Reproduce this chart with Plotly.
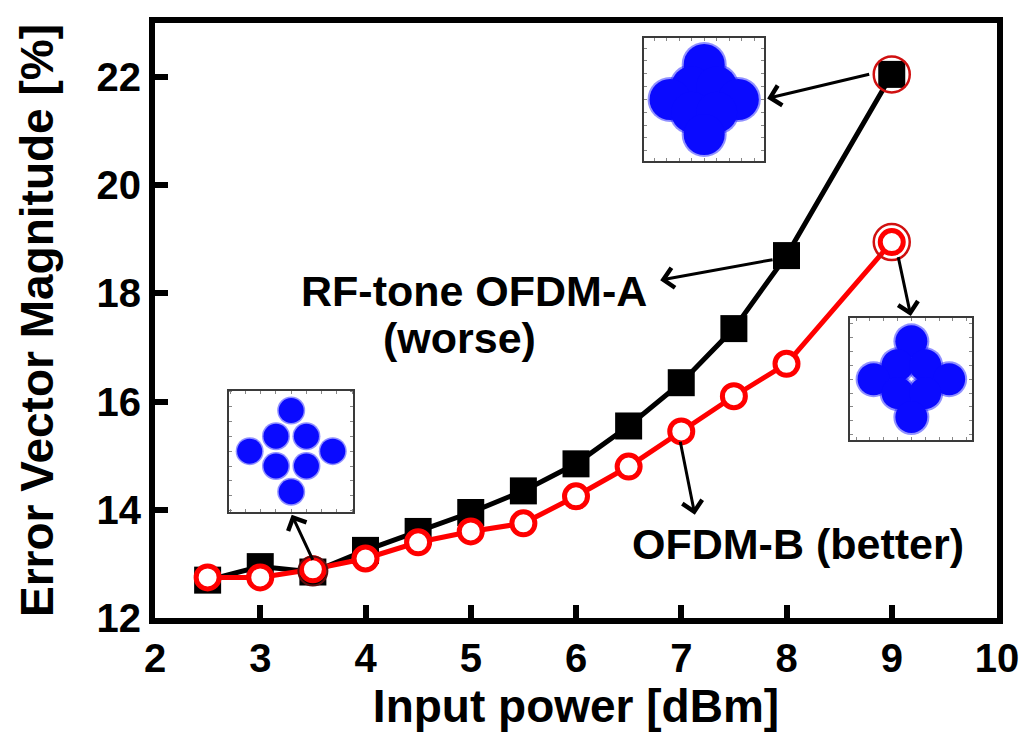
import plotly.graph_objects as go

# Measured EVM versus input power
input_power = [2.5, 3, 3.5, 4, 4.5, 5, 5.5, 6, 6.5, 7, 7.5, 8, 9]
evm_ofdm_a = [12.70, 12.95, 12.85, 13.25, 13.60, 13.95, 14.35, 14.85, 15.55, 16.35, 17.35, 18.70, 22.05]
evm_ofdm_b = [12.75, 12.75, 12.90, 13.10, 13.40, 13.60, 13.75, 14.25, 14.80, 15.45, 16.10, 16.70, 18.95]

x_ticks = [2, 3, 4, 5, 6, 7, 8, 9, 10]
y_ticks = [12, 14, 16, 18, 20, 22]

# Constellation cluster centres (star 8-QAM)
const_i = [0.0, -1.0, 1.0, -2.73, 2.73, -1.0, 1.0, 0.0]
const_q = [2.73, 1.0, 1.0, 0.0, 0.0, -1.0, -1.0, -2.73]

FONT = "Liberation Sans, Arial, sans-serif"
BLUE = "#0a0aff"
RED = "#ff0000"

fig = go.Figure()

# Main curves
fig.add_trace(go.Scatter(
    x=input_power, y=evm_ofdm_a, mode="lines+markers", name="RF-tone OFDM-A",
    line=dict(color="black", width=5),
    marker=dict(symbol="square", size=27, color="black"),
))
fig.add_trace(go.Scatter(
    x=input_power, y=evm_ofdm_b, mode="lines+markers", name="OFDM-B",
    line=dict(color=RED, width=5),
    marker=dict(symbol="circle", size=23, color="white", line=dict(color=RED, width=5)),
))

# Highlight rings on the points whose constellations are shown
fig.add_trace(go.Scatter(
    x=[input_power[-1], input_power[-1]], y=[evm_ofdm_a[-1], evm_ofdm_b[-1]], mode="markers",
    marker=dict(symbol="circle-open", size=36, color="#d01010", line=dict(width=2.5)),
))
fig.add_trace(go.Scatter(
    x=[input_power[2]], y=[evm_ofdm_b[2] - 0.03], mode="markers",
    marker=dict(symbol="circle-open", size=29, color="#5a1010", line=dict(width=2)),
))

# Constellation insets: (axis suffix, x domain, y domain, range, core size, halo size)
insets = [
    ("2", [0.581, 0.7235], [0.768, 0.975], 4.8, 41, 45),
    ("3", [0.826, 0.9706], [0.2988, 0.504], 4.4, 32, 36),
    ("4", [0.0882, 0.2353], [0.1786, 0.3823], 4.07, 25, 28),
]
for suffix, xd, yd, rng, core, halo in insets:
    xa, ya = "x" + suffix, "y" + suffix
    fig.add_trace(go.Scatter(
        x=const_i, y=const_q, xaxis=xa, yaxis=ya, mode="markers", hoverinfo="skip",
        marker=dict(size=halo, color=BLUE, opacity=0.45, line=dict(width=0)),
    ))
    fig.add_trace(go.Scatter(
        x=const_i, y=const_q, xaxis=xa, yaxis=ya, mode="markers", hoverinfo="skip",
        marker=dict(size=core, color=BLUE, line=dict(width=0)),
    ))
    axis_common = dict(
        range=[-rng, rng], showgrid=False, zeroline=False, showticklabels=False,
        showline=True, linecolor="#3a3a3a", linewidth=2, mirror="ticks",
        ticks="inside", ticklen=3, tickwidth=1, tickcolor="#888888", dtick=1,
        fixedrange=True,
    )
    fig.update_layout(**{
        "xaxis" + suffix: dict(domain=xd, anchor=ya, **axis_common),
        "yaxis" + suffix: dict(domain=yd, anchor=xa, **axis_common),
    })

# Arrows: (head x, head y, tail x, tail y)
arrows = [
    (7.816, 21.605, 8.80, 22.06),
    (6.80, 18.245, 7.882, 18.63),
    (9.181, 17.583, 9.059, 18.70),
    (7.129, 13.91, 6.988, 15.287),
    (3.299, 13.91, 3.506, 13.047),
]
for hx, hy, tx, ty in arrows:
    fig.add_annotation(
        x=hx, y=hy, ax=tx, ay=ty, xref="x", yref="y", axref="x", ayref="y",
        text="", showarrow=True, arrowhead=4, arrowsize=1.3, arrowwidth=3,
        arrowcolor="black", standoff=0, startstandoff=0,
    )

label_font = dict(family=FONT, size=43, color="black", weight="bold")
fig.add_annotation(x=5.03, y=18.04, text="RF-tone OFDM-A", showarrow=False,
                   font=label_font, xanchor="center", yanchor="middle")
fig.add_annotation(x=4.89, y=17.18, text="(worse)", showarrow=False,
                   font=label_font, xanchor="center", yanchor="middle")
fig.add_annotation(x=8.108, y=13.36, text="OFDM-B (better)", showarrow=False,
                   font=label_font, xanchor="center", yanchor="middle")

tick_font = dict(family=FONT, size=40, color="black", weight="bold")
title_font = dict(family=FONT, size=46, color="black", weight="bold")

fig.update_layout(
    width=1031, height=732,
    margin=dict(l=155, r=26, t=23, b=110),
    paper_bgcolor="white", plot_bgcolor="white",
    showlegend=False,
    xaxis=dict(
        range=[2, 10], tickvals=x_ticks, ticktext=[str(v) for v in x_ticks],
        showgrid=False, zeroline=False,
        showline=True, linecolor="black", linewidth=6, mirror=True,
        ticks="inside", ticklen=13, tickwidth=6, tickcolor="black",
        tickfont=tick_font,
        title=dict(text="Input power [dBm]", font=title_font, standoff=8),
    ),
    yaxis=dict(
        range=[12, 23], tickvals=y_ticks, ticktext=[str(v) for v in y_ticks],
        showgrid=False, zeroline=False,
        showline=True, linecolor="black", linewidth=6, mirror=True,
        ticks="inside", ticklen=13, tickwidth=6, tickcolor="black",
        tickfont=tick_font,
        title=dict(text="Error Vector Magnitude [%]", font=title_font, standoff=30),
    ),
)

fig.write_html("out.html")
